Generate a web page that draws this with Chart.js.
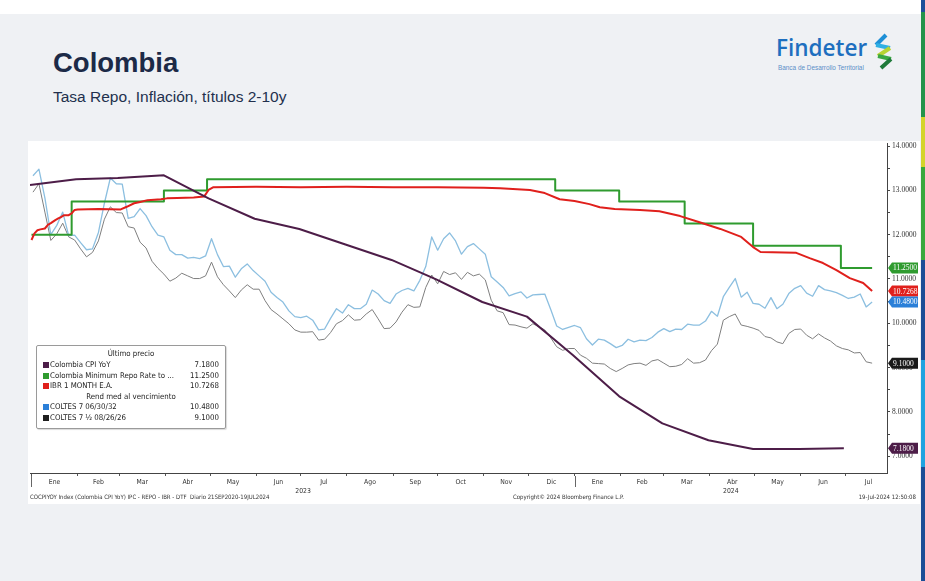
<!DOCTYPE html>
<html><head><meta charset="utf-8">
<script src="https://cdn.jsdelivr.net/npm/chart.js@4.4.1/dist/chart.umd.min.js"></script>
<style>
html,body{margin:0;padding:0;}
body{width:925px;height:581px;position:relative;background:#ffffff;overflow:hidden;font-family:"Liberation Sans",Arial,sans-serif;}
#bg{position:absolute;left:0;top:14px;width:921px;height:567px;background:#eff1f4;}
#bar{position:absolute;left:921px;top:0;width:4px;height:581px;}
#bar div{position:absolute;left:0;width:4px;}
#title{position:absolute;left:53px;top:47px;font-weight:bold;font-size:27.5px;color:#1c2a47;}
#subtitle{position:absolute;left:53px;top:88px;font-size:15.5px;color:#22304d;}
#logoText{position:absolute;left:776px;top:35px;font-family:"Open Sans",sans-serif;font-weight:600;font-size:22.5px;color:#1e6fbf;line-height:26px;}
#logoSub{position:absolute;left:778px;top:64px;font-family:"Liberation Sans",sans-serif;font-size:6.4px;color:#5b8fc8;}
#logoIcon{position:absolute;left:869px;top:33px;}
#panel{position:absolute;left:28px;top:141px;width:892px;height:363px;background:#ffffff;}
#chart{position:absolute;left:28px;top:141px;}
.foot{position:absolute;top:493px;font-family:"DejaVu Sans Condensed","Liberation Sans Narrow","DejaVu Sans",sans-serif;font-size:6px;color:#333;white-space:nowrap;}
#legend{position:absolute;left:36px;top:345px;width:188px;height:82px;background:#fff;border:1px solid #9a9a9a;border-radius:2px;box-shadow:1px 1px 1px rgba(0,0,0,0.15);font-family:"DejaVu Sans Condensed","Liberation Sans Narrow","DejaVu Sans",sans-serif;font-size:7.8px;color:#222;}
#legend .hdr{position:absolute;left:0;width:188px;text-align:center;}
#legend .row{position:absolute;left:6px;width:176px;height:10px;}
#legend .sq{position:absolute;left:0;top:2px;width:6px;height:6px;}
#legend .nm{position:absolute;left:7px;top:0;white-space:nowrap;}
#legend .val{position:absolute;right:0;top:0;}
</style>
</head>
<body>
<div id="bg"></div>
<div id="bar">
  <div style="top:0;height:12px;background:#1c4f9a"></div>
  <div style="top:12px;height:105px;background:#23934a"></div>
  <div style="top:117px;height:50px;background:#d4d42a"></div>
  <div style="top:167px;height:93px;background:#38a83c"></div>
  <div style="top:260px;height:100px;background:#1b4d96"></div>
  <div style="top:360px;height:107px;background:#1ea3e0"></div>
  <div style="top:467px;height:114px;background:#1b4d96"></div>
</div>
<div id="title">Colombia</div>
<div id="subtitle">Tasa Repo, Inflación, títulos 2-10y</div>
<div id="logoText">Findeter</div>
<div id="logoSub">Banca de Desarrollo Territorial</div>
<svg id="logoIcon" width="28" height="38" viewBox="0 0 28 38">
  <polyline points="17,2 7,12" stroke="#1d8fd6" stroke-width="4" fill="none"/>
  <polyline points="7,12 21,15" stroke="#2fb0e4" stroke-width="4" fill="none"/>
  <polyline points="21,15 9,23" stroke="#b7d433" stroke-width="4" fill="none"/>
  <polyline points="9,23 22,26" stroke="#3aa843" stroke-width="4" fill="none"/>
  <polyline points="22,26 12,35" stroke="#1f7a3a" stroke-width="4" fill="none"/>
</svg>
<div id="panel"></div>
<canvas id="chart" width="892" height="363"></canvas>
<div class="foot" style="left:30px">COCPIYOY Index (Colombia CPI YoY) IPC - REPO - IBR - DTF&nbsp; Diario 21SEP2020-19JUL2024</div>
<div class="foot" style="left:513px">Copyright© 2024 Bloomberg Finance L.P.</div>
<div class="foot" style="right:9px">19-Jul-2024 12:50:08</div>
<div id="legend"></div>
<script>
// ---------- DATA ----------
const seriesNames = ['Colombia CPI YoY','Colombia Minimum Repo Rate to ...','IBR 1 MONTH E.A.','COLTES 7 06/30/32','COLTES 7 \u00BD 08/26/26'];
const seriesColors = ['#4d1d48','#2f9b2f','#e0201c','#8cbfe0','#7f7f7f'];
const legendColors = ['#4d1d48','#2f9b2f','#e0201c','#2a7fd8','#1f1f1f'];

const cpiDates = ['2022-12-31','2023-01-31','2023-02-28','2023-03-31','2023-04-30','2023-05-31','2023-06-30','2023-07-31','2023-08-31','2023-09-30','2023-10-31','2023-11-30','2023-12-31','2024-01-31','2024-02-29','2024-03-31','2024-04-30','2024-05-31','2024-06-30'];
const cpiValues = [13.12,13.25,13.28,13.34,12.82,12.36,12.13,11.78,11.43,10.99,10.48,10.15,9.28,8.35,7.74,7.36,7.16,7.16,7.18];

const repoDates = ['2023-01-01','2023-01-28','2023-03-31','2023-04-29','2023-12-19','2024-01-31','2024-03-15','2024-04-30','2024-06-28','2024-07-19'];
const repoValues = [12.00,12.75,13.00,13.25,13.00,12.75,12.25,11.75,11.25,11.25];

const ibrDates = ['2023-01-01','2023-01-03','2023-01-05','2023-01-07','2023-01-10','2023-01-12','2023-01-14','2023-01-17','2023-01-19','2023-01-21','2023-01-23','2023-01-26','2023-01-28','2023-01-30','2023-02-01','2023-02-15','2023-03-02','2023-03-06','2023-03-11','2023-03-15','2023-03-20','2023-03-29','2023-04-02','2023-04-09','2023-04-20','2023-04-27','2023-04-30','2023-05-03','2023-06-01','2023-07-01','2023-08-01','2023-09-01','2023-10-01','2023-11-01','2023-11-12','2023-12-02','2023-12-12','2023-12-22','2024-01-01','2024-01-11','2024-01-18','2024-01-28','2024-02-14','2024-02-27','2024-03-12','2024-03-25','2024-04-08','2024-04-22','2024-04-30','2024-05-05','2024-05-29','2024-06-07','2024-06-16','2024-06-25','2024-07-04','2024-07-13','2024-07-19'];
const ibrValues = [11.88,12.03,12.10,12.12,12.14,12.22,12.26,12.33,12.37,12.40,12.44,12.44,12.48,12.56,12.57,12.58,12.57,12.63,12.71,12.74,12.78,12.80,12.82,12.83,12.84,12.86,13.01,13.07,13.08,13.07,13.08,13.07,13.07,13.06,13.05,13.01,12.94,12.80,12.76,12.69,12.62,12.58,12.56,12.53,12.42,12.28,12.13,11.95,11.72,11.61,11.59,11.47,11.36,11.20,11.02,10.91,10.7268];

const coltesDates = ['2023-01-02','2023-01-06','2023-01-10','2023-01-14','2023-01-18','2023-01-22','2023-01-26','2023-01-30','2023-02-03','2023-02-07','2023-02-11','2023-02-15','2023-02-19','2023-02-23','2023-02-27','2023-03-03','2023-03-07','2023-03-11','2023-03-15','2023-03-19','2023-03-23','2023-03-27','2023-03-31','2023-04-04','2023-04-08','2023-04-12','2023-04-16','2023-04-20','2023-04-24','2023-04-28','2023-05-02','2023-05-06','2023-05-10','2023-05-14','2023-05-18','2023-05-22','2023-05-26','2023-05-30','2023-06-03','2023-06-07','2023-06-11','2023-06-15','2023-06-19','2023-06-23','2023-06-27','2023-07-01','2023-07-05','2023-07-09','2023-07-13','2023-07-17','2023-07-21','2023-07-25','2023-07-29','2023-08-02','2023-08-06','2023-08-10','2023-08-14','2023-08-18','2023-08-22','2023-08-26','2023-08-30','2023-09-03','2023-09-07','2023-09-11','2023-09-15','2023-09-19','2023-09-23','2023-09-27','2023-10-01','2023-10-05','2023-10-09','2023-10-13','2023-10-17','2023-10-21','2023-10-25','2023-10-29','2023-11-02','2023-11-06','2023-11-10','2023-11-14','2023-11-18','2023-11-22','2023-11-26','2023-11-30','2023-12-04','2023-12-08','2023-12-12','2023-12-16','2023-12-20','2023-12-24','2023-12-28','2024-01-01','2024-01-05','2024-01-09','2024-01-13','2024-01-17','2024-01-21','2024-01-25','2024-01-29','2024-02-02','2024-02-06','2024-02-10','2024-02-14','2024-02-18','2024-02-22','2024-02-26','2024-03-01','2024-03-05','2024-03-09','2024-03-13','2024-03-17','2024-03-21','2024-03-25','2024-03-29','2024-04-02','2024-04-06','2024-04-10','2024-04-14','2024-04-18','2024-04-22','2024-04-26','2024-04-30','2024-05-04','2024-05-08','2024-05-12','2024-05-16','2024-05-20','2024-05-24','2024-05-28','2024-06-01','2024-06-05','2024-06-09','2024-06-13','2024-06-17','2024-06-21','2024-06-25','2024-06-29','2024-07-03','2024-07-07','2024-07-11','2024-07-15','2024-07-19'];
const coltes32Values = [13.33,13.48,12.83,12.00,12.21,12.51,11.98,11.99,11.82,11.66,11.68,12.05,12.71,13.28,13.15,13.14,12.37,12.41,12.59,12.43,12.18,11.99,11.95,11.65,11.55,11.55,11.47,11.49,11.46,11.52,11.91,11.55,11.28,11.29,11.04,11.23,11.34,11.19,11.07,10.95,10.70,10.58,10.48,10.28,10.15,10.13,10.16,10.07,9.85,9.87,10.11,10.33,10.23,10.42,10.33,10.33,10.43,10.75,10.66,10.51,10.45,10.66,10.74,10.79,10.73,10.97,11.28,11.95,11.65,11.91,12.04,11.86,11.56,11.73,11.80,11.68,11.56,11.05,10.93,10.81,10.62,10.67,10.71,10.57,10.64,10.65,10.66,10.31,9.94,9.86,9.91,9.95,9.90,9.65,9.51,9.64,9.62,9.54,9.45,9.50,9.64,9.58,9.62,9.61,9.68,9.80,9.88,9.81,9.87,9.86,9.98,9.96,9.96,10.05,10.27,10.16,10.60,10.81,11.01,10.59,10.70,10.45,10.43,10.34,10.58,10.33,10.43,10.67,10.79,10.85,10.68,10.61,10.85,10.76,10.73,10.69,10.63,10.56,10.59,10.66,10.37,10.48];
const coltes26Values = [12.96,13.15,12.51,11.87,12.02,12.26,11.95,11.88,11.68,11.50,11.60,11.86,12.35,12.63,12.50,12.49,12.18,12.15,11.83,11.70,11.40,11.24,11.11,10.95,11.02,11.13,11.07,11.01,11.01,11.07,11.38,11.05,10.87,10.73,10.58,10.75,10.87,10.77,10.77,10.51,10.31,10.21,10.10,9.99,9.85,9.80,9.80,9.81,9.62,9.64,9.79,9.99,10.06,10.19,10.07,10.08,10.21,10.31,10.10,9.88,9.89,10.03,10.25,10.42,10.36,10.37,10.81,11.09,10.89,11.17,11.10,11.14,10.99,11.15,11.07,11.11,10.98,10.52,10.28,10.24,9.97,9.96,9.92,9.89,9.99,9.92,9.85,9.67,9.47,9.39,9.43,9.43,9.28,9.21,9.10,9.09,9.08,8.98,8.91,8.98,9.06,9.09,9.10,9.05,9.15,9.18,9.10,9.02,9.03,9.07,9.20,9.10,9.11,9.17,9.38,9.53,10.07,10.15,10.21,9.96,9.93,9.89,9.84,9.70,9.67,9.58,9.54,9.77,9.86,9.87,9.73,9.65,9.76,9.67,9.60,9.49,9.43,9.40,9.33,9.34,9.13,9.10];

const monthNames = ['Ene','Feb','Mar','Abr','May','Jun','Jul','Ago','Sep','Oct','Nov','Dic','Ene','Feb','Mar','Abr','May','Jun','Jul'];
const monthStarts = ['2023-01-01','2023-02-01','2023-03-01','2023-04-01','2023-05-01','2023-06-01','2023-07-01','2023-08-01','2023-09-01','2023-10-01','2023-11-01','2023-12-01','2024-01-01','2024-02-01','2024-03-01','2024-04-01','2024-05-01','2024-06-01','2024-07-01','2024-08-01'];
const yearLabels = ['2023','2024'];
const yearStarts = ['2023-01-01','2024-01-01'];
const yTickValues = [7,7.5,8,8.5,9,9.5,10,10.5,11,11.5,12,12.5,13,13.5,14];
const axisStart = '2022-12-31';
const axisEnd = '2024-07-29';

// ---------- HELPERS ----------
const ORIGIN = Date.UTC(2023,0,1);
function day(s){const p=s.split('-').map(Number);return (Date.UTC(p[0],p[1]-1,p[2])-ORIGIN)/86400000;}
function pts(dates,vals){return dates.map((d,i)=>({x:day(d),y:vals[i]}));}
const xMin = day(axisStart), xMax = day(axisEnd);

// legend
(function(){
  const lg=document.getElementById('legend');
  const lastVals=[cpiValues,repoValues,ibrValues,coltes32Values,coltes26Values].map(a=>a[a.length-1].toFixed(4));
  let html='<div class="hdr" style="top:3px">Último precio</div>';
  const tops=[14,24.5,35,56,66.5];
  for(let i=0;i<5;i++){
    if(i===3) html+='<div class="hdr" style="top:45.5px">Rend med al vencimiento</div>';
    html+='<div class="row" style="top:'+tops[i]+'px"><span class="sq" style="background:'+legendColors[i]+'"></span><span class="nm">'+seriesNames[i]+'</span><span class="val">'+lastVals[i]+'</span></div>';
  }
  lg.innerHTML=html;
})();

// ---------- PLUGINS ----------
const tagPlugin={
  id:'tags',
  afterDraw(chart){
    const c=chart.ctx, ys=chart.scales.y, x0=chart.chartArea.right+1;
    chart.data.datasets.forEach((ds,i)=>{
      const last=ds.data[ds.data.length-1].y;
      const y=ys.getPixelForValue(last);
      c.save();
      c.fillStyle=ds.tagColor;
      c.beginPath();
      c.moveTo(x0,y);c.lineTo(x0+4,y-5.5);c.lineTo(x0+30,y-5.5);c.lineTo(x0+30,y+5.5);c.lineTo(x0+4,y+5.5);c.closePath();
      c.fill();
      c.fillStyle='#ffffff';
      c.font='7.5px "Liberation Serif", serif';
      c.textAlign='left';c.textBaseline='middle';
      c.fillText(ds.tagText,x0+5,y+0.5);
      c.restore();
    });
  }
};
const yearSepPlugin={
  id:'yearsep',
  afterDraw(chart){
    const c=chart.ctx, xs=chart.scales.x, b=chart.chartArea.bottom;
    yearStarts.forEach(s=>{
      const v=day(s); if(v<=xMin||v>=xMax) return;
      const px=Math.round(xs.getPixelForValue(v))+0.5;
      c.save();c.strokeStyle='#666';c.lineWidth=1;
      c.beginPath();c.moveTo(px,b+3);c.lineTo(px,b+14);c.stroke();c.restore();
    });
  }
};

// ---------- CHART ----------
const allSeries=[
  {name:seriesNames[0],data:pts(cpiDates,cpiValues),color:seriesColors[0],tag:'#4d1d48',w:2,order:1,stepped:false},
  {name:seriesNames[1],data:pts(repoDates,repoValues),color:seriesColors[1],tag:'#2f9b2f',w:2,order:3,stepped:'before'},
  {name:seriesNames[2],data:pts(ibrDates,ibrValues),color:seriesColors[2],tag:'#e0201c',w:2,order:2,stepped:false},
  {name:seriesNames[3],data:pts(coltesDates,coltes32Values),color:seriesColors[3],tag:'#2a7fd8',w:1.3,order:4,stepped:false},
  {name:seriesNames[4],data:pts(coltesDates,coltes26Values),color:seriesColors[4],tag:'#1a1a1a',w:1,order:5,stepped:false}
];
const tagTexts=[cpiValues,repoValues,ibrValues,coltes32Values,coltes26Values].map(a=>a[a.length-1].toFixed(4));

new Chart(document.getElementById('chart'),{
  type:'line',
  data:{datasets:allSeries.map((s,i)=>({
    label:s.name,data:s.data,borderColor:s.color,borderWidth:s.w,pointRadius:0,tension:0,
    stepped:s.stepped,order:s.order,fill:false,tagColor:s.tag,tagText:tagTexts[i],borderJoinStyle:'round'
  }))},
  options:{
    responsive:false,animation:false,devicePixelRatio:1,
    layout:{padding:{left:2,top:2,right:0,bottom:0}},
    plugins:{legend:{display:false},tooltip:{enabled:false}},
    scales:{
      x:{
        type:'linear',min:xMin,max:xMax,position:'bottom',
        afterBuildTicks(scale){
          const t=[];
          for(let i=0;i<monthStarts.length;i++){
            const v=day(monthStarts[i]);
            if(v>xMin&&v<xMax) t.push({value:v,kind:'b',txt:''});
            if(i<monthNames.length){
              const mid=(day(monthStarts[i])+day(monthStarts[i+1]))/2;
              if(mid>xMin&&mid<xMax) t.push({value:mid,kind:'m',txt:monthNames[i]});
            }
          }
          for(let i=0;i<yearLabels.length;i++){
            const a=Math.max(day(yearStarts[i]),xMin);
            const b=i+1<yearStarts.length?day(yearStarts[i+1]):xMax;
            t.push({value:(a+Math.min(b,xMax))/2,kind:'y',txt:['',yearLabels[i]]});
          }
          t.sort((p,q)=>p.value-q.value);
          scale.ticks=t;
        },
        afterFit(s){s.height=31;s.paddingLeft=0;s.paddingRight=0;},
        ticks:{autoSkip:false,maxRotation:0,minRotation:0,padding:2,color:'#333',
          font:{family:'"DejaVu Sans Condensed","Liberation Sans Narrow","DejaVu Sans",sans-serif',size:6.8,lineHeight:1.25},
          callback(v,i,ticks){return ticks[i].txt;}},
        grid:{drawOnChartArea:false,drawTicks:true,tickLength:3,
          color:(ctx)=>(ctx.tick&&ctx.tick.kind==='b')?'#555':'rgba(0,0,0,0)'},
        border:{color:'#444',width:1}
      },
      y:{
        position:'right',min:6.62,max:14.07,
        afterBuildTicks(scale){scale.ticks=yTickValues.map(v=>({value:v}));},
        afterFit(s){s.width=33;s.paddingTop=0;s.paddingBottom=0;},
        ticks:{padding:2,color:'#333',font:{family:'"Liberation Serif",serif',size:7.5},
          callback(v){return Number.isInteger(v)?v.toFixed(4):'';}},
        grid:{drawOnChartArea:false,drawTicks:true,tickLength:3,color:'#444'},
        border:{color:'#444',width:1}
      }
    }
  },
  plugins:[tagPlugin,yearSepPlugin]
});
</script>
</body></html>
